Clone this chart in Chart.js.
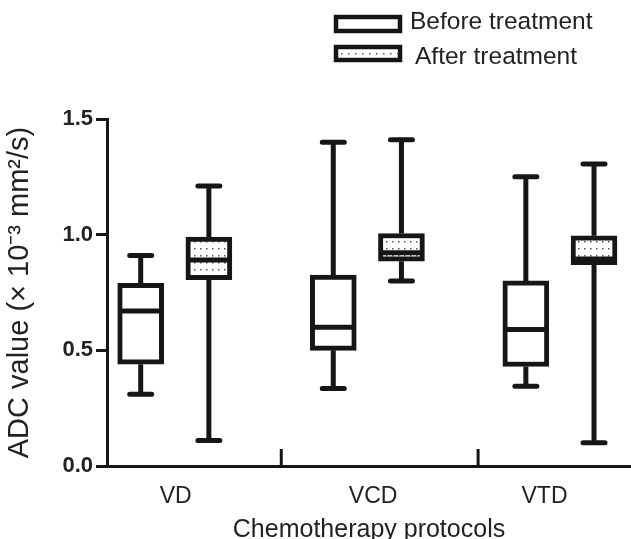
<!DOCTYPE html>
<html>
<head>
<meta charset="utf-8">
<script src="https://cdn.jsdelivr.net/npm/chart.js@4.4.1/dist/chart.umd.min.js"></script>
<style>
  html, body { margin: 0; padding: 0; background: #fff; }
  #wrap { width: 631px; height: 539px; }
</style>
</head>
<body>
<div id="wrap"><canvas id="chart" width="631" height="539"></canvas></div>
<script>
// ADC values per chemotherapy protocol
const protocols = ['VD', 'VCD', 'VTD'];
const seriesNames = ['Before treatment', 'After treatment'];

const beforeMin    = [0.31, 0.335, 0.345];
const beforeQ1     = [0.44, 0.50, 0.43];
const beforeMedian = [0.67, 0.60, 0.59];
const beforeQ3     = [0.79, 0.825, 0.80];
const beforeMax    = [0.91, 1.40, 1.25];

const afterMin    = [0.11, 0.80, 0.10];
const afterQ1     = [0.805, 0.885, 0.87];
const afterMedian = [0.89, 0.922, 0.895];
const afterQ3     = [0.99, 1.005, 0.995];
const afterMax    = [1.21, 1.41, 1.305];

const yTicks = [0, 0.5, 1.0, 1.5];

// layout along the linear x axis
const groupAt = [1, 2, 3];
const pairOffset = 0.177;
const labelAt = [1.005, 2.03, 2.92];
const separatorAt = [1.553, 2.575];

const ink = '#161616';
const textColor = '#222';
const family = "'Liberation Sans', Arial, sans-serif";
Chart.defaults.font.family = family;

function dotPattern() {
  const c = document.createElement('canvas');
  c.width = 6; c.height = 7;
  const g = c.getContext('2d');
  g.fillStyle = '#fff';
  g.fillRect(0, 0, 6, 7);
  g.fillStyle = '#555';
  g.fillRect(2, 3, 1.5, 1.5);
  return g.createPattern(c, 'repeat');
}

const boxPlot = {
  id: 'boxPlot',
  afterDatasetsDraw(chart) {
    const { ctx, scales: { x, y } } = chart;
    ctx.save();
    ctx.strokeStyle = ink;
    chart.data.datasets.forEach((ds, di) => {
      const meta = chart.getDatasetMeta(di);
      meta.data.forEach((bar, i) => {
        const cx = bar.x, w = bar.width;
        const pMin = y.getPixelForValue(ds.stats.min[i]);
        const pMax = y.getPixelForValue(ds.stats.max[i]);
        const pQ1 = y.getPixelForValue(ds.data[i].y[0]);
        const pQ3 = y.getPixelForValue(ds.data[i].y[1]);
        const pMed = y.getPixelForValue(ds.stats.med[i]);
        ctx.lineWidth = 5;
        ctx.lineCap = 'butt';
        ctx.beginPath();
        ctx.moveTo(cx, pMax); ctx.lineTo(cx, pQ3);
        ctx.moveTo(cx, pQ1); ctx.lineTo(cx, pMin);
        ctx.stroke();
        ctx.lineCap = 'round';
        ctx.beginPath();
        ctx.moveTo(cx - 11, pMax); ctx.lineTo(cx + 11, pMax);
        ctx.moveTo(cx - 11, pMin); ctx.lineTo(cx + 11, pMin);
        ctx.stroke();
        ctx.lineCap = 'butt';
        ctx.beginPath();
        ctx.moveTo(cx - w / 2 + 2, pMed); ctx.lineTo(cx + w / 2 - 2, pMed);
        ctx.stroke();
      });
    });
    // separator ticks on the x axis, pointing up
    ctx.lineWidth = 3;
    ctx.beginPath();
    separatorAt.forEach(v => {
      const px = x.getPixelForValue(v);
      ctx.moveTo(px, y.bottom); ctx.lineTo(px, y.bottom - 17);
    });
    ctx.stroke();
    ctx.restore();
  }
};

const legendBoxes = {
  id: 'legendBoxes',
  afterDraw(chart) {
    const ctx = chart.ctx;
    ctx.save();
    ctx.strokeStyle = ink;
    ctx.lineWidth = 4.5;
    ctx.fillStyle = '#fff';
    ctx.fillRect(336, 17, 64, 14);
    ctx.strokeRect(336, 17, 64, 14);
    ctx.fillRect(336, 47, 64, 13);
    ctx.strokeRect(336, 47, 64, 13);
    ctx.fillStyle = '#555';
    for (let dx = 341; dx < 398; dx += 7) ctx.fillRect(dx, 53, 1.5, 1.5);
    ctx.fillStyle = textColor;
    ctx.font = '24.5px ' + family;
    ctx.textBaseline = 'middle';
    ctx.fillText(seriesNames[0], 410, 22);
    ctx.fillText(seriesNames[1], 415, 57);
    ctx.restore();
  }
};

new Chart(document.getElementById('chart'), {
  type: 'bar',
  data: {
    datasets: [
      {
        label: seriesNames[0],
        data: protocols.map((p, i) => ({ x: groupAt[i] - pairOffset, y: [beforeQ1[i], beforeQ3[i]] })),
        stats: { min: beforeMin, med: beforeMedian, max: beforeMax },
        backgroundColor: '#fff',
        borderColor: ink, borderWidth: 5, borderSkipped: false,
        barThickness: 46, grouped: false
      },
      {
        label: seriesNames[1],
        data: protocols.map((p, i) => ({ x: groupAt[i] + pairOffset, y: [afterQ1[i], afterQ3[i]] })),
        stats: { min: afterMin, med: afterMedian, max: afterMax },
        backgroundColor: dotPattern(),
        borderColor: ink, borderWidth: 5, borderSkipped: false,
        barThickness: 46, grouped: false
      }
    ]
  },
  options: {
    responsive: false,
    animation: false,
    devicePixelRatio: 1,
    layout: { padding: { top: 119, right: 0, left: 0, bottom: 0 } },
    plugins: { legend: { display: false }, tooltip: { enabled: false } },
    scales: {
      x: {
        type: 'linear', min: 0.648, max: 3.369, offset: false,
        afterBuildTicks: s => { s.ticks = labelAt.map(v => ({ value: v })); },
        afterFit: s => { s.height = 73; },
        grid: { display: false },
        border: { display: true, color: ink, width: 3 },
        ticks: {
          autoSkip: false, maxRotation: 0, padding: 9, color: textColor,
          font: { size: 23 }, callback: (v, i) => protocols[i]
        },
        title: {
          display: true, text: 'Chemotherapy protocols', color: textColor,
          font: { size: 25 }, padding: { top: 0, bottom: -6 }
        }
      },
      y: {
        min: 0, max: 1.5,
        afterBuildTicks: s => { s.ticks = yTicks.map(v => ({ value: v })); },
        afterFit: s => { s.width = 107; },
        grid: { drawOnChartArea: false, drawTicks: true, tickLength: 11, tickWidth: 3, tickColor: ink },
        border: { display: true, color: ink, width: 3 },
        ticks: {
          padding: 3, color: textColor,
          font: { size: 22, weight: 'bold' }, callback: v => v.toFixed(1)
        },
        title: {
          display: true, text: 'ADC value (× 10⁻³ mm²/s)', color: textColor,
          font: { size: 29 }, padding: { top: 3, bottom: 0 }
        }
      }
    }
  },
  plugins: [boxPlot, legendBoxes]
});
</script>
</body>
</html>
